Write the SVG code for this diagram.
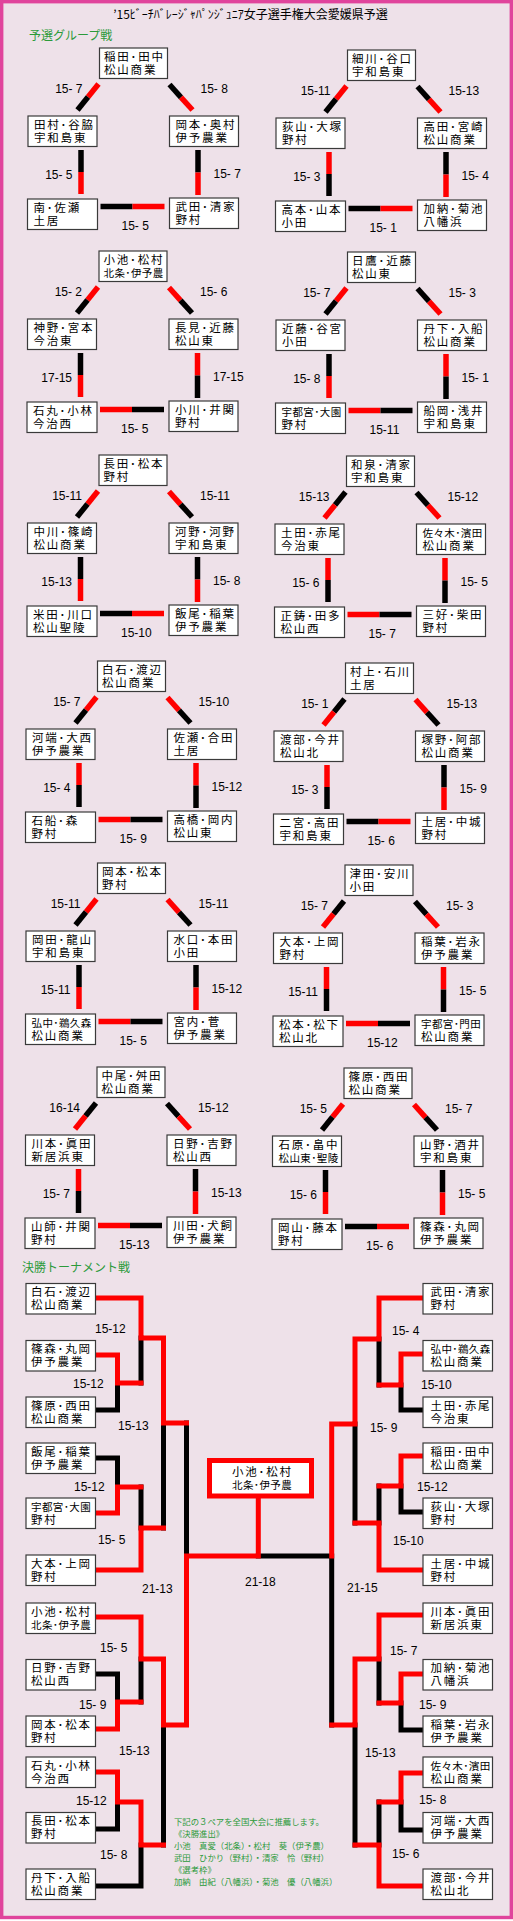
<svg xmlns="http://www.w3.org/2000/svg" width="513" height="1921" viewBox="0 0 513 1921">
<style>
.bx{fill:#fff;stroke:#3a3a3a;stroke-width:1.2}
.nt{font-family:"Liberation Sans","Noto Sans CJK JP","Noto Sans CJK SC",sans-serif;font-size:11.5px;letter-spacing:1.8px;fill:#000}
.cp{letter-spacing:0.4px;font-size:10.5px}
.sc{font-family:"Liberation Sans",Arial,sans-serif;font-size:12px;fill:#000}
.e{text-anchor:end}
.r{stroke:#f00;stroke-width:5.5;fill:none}
.k{stroke:#000;stroke-width:5.5;fill:none}
.R{stroke:#f00;stroke-width:5;fill:none;stroke-linecap:square}
.K{stroke:#000;stroke-width:5;fill:none;stroke-linecap:square}
.gh{font-family:"Noto Sans CJK JP","Noto Sans CJK SC",sans-serif;font-size:12px;fill:#2b9a3a}
.ft{font-family:"Liberation Sans","Noto Sans CJK JP","Noto Sans CJK SC",sans-serif;font-size:8.4px;fill:#2b9a3a}
.tt{font-family:"Noto Sans CJK JP","Noto Sans CJK SC",sans-serif;font-size:12px;fill:#000;text-anchor:middle}
</style>
<rect x="1.7" y="1.7" width="509.6" height="1915.8" fill="#eee1e9" stroke="#e0449c" stroke-width="3.4"/>
<text class="tt" x="250.5" y="19">’15ﾋﾞｰﾁﾊﾞﾚｰｼﾞｬﾊﾟﾝｼﾞｭﾆｱ女子選手権大会愛媛県予選</text>
<text class="gh" x="29" y="40">予選グループ戦</text>
<text class="gh" x="22" y="1272">決勝トーナメント戦</text>

<g id="connectors">
<g id="pool-lines">
<g transform="translate(0.5,48)">
<path class="r" d="M98,36L87.5,49"/><path class="k" d="M87.5,49L77,62"/>
<path class="k" d="M169,36.5L180.5,49.3"/><path class="r" d="M180.5,49.3L192,62"/>
<path class="k" d="M80.5,102V124"/><path class="r" d="M80.5,124V146"/>
<path class="k" d="M197.5,102V124.5"/><path class="r" d="M197.5,124.5V147"/>
<path class="k" d="M100,158.5H132"/><path class="r" d="M132,158.5H164"/>
<text class="sc e" x="82" y="45">15- 7</text><text class="sc" x="200" y="45">15- 8</text><text class="sc e" x="72" y="131">15- 5</text><text class="sc" x="213" y="130">15- 7</text><text class="sc" x="121" y="182">15- 5</text>
</g>
<g transform="translate(248.5,50)">
<path class="r" d="M98,36L87.5,49"/><path class="k" d="M87.5,49L77,62"/>
<path class="k" d="M169,36.5L180.5,49.3"/><path class="r" d="M180.5,49.3L192,62"/>
<path class="r" d="M80.5,102V124"/><path class="k" d="M80.5,124V146"/>
<path class="k" d="M197.5,102V124.5"/><path class="r" d="M197.5,124.5V147"/>
<path class="k" d="M100,158.5H132"/><path class="r" d="M132,158.5H164"/>
<text class="sc e" x="82" y="45">15-11</text><text class="sc" x="200" y="45">15-13</text><text class="sc e" x="72" y="131">15- 3</text><text class="sc" x="213" y="130">15- 4</text><text class="sc" x="121" y="182">15- 1</text>
</g>
<g transform="translate(0,251)">
<path class="r" d="M98,36L87.5,49"/><path class="k" d="M87.5,49L77,62"/>
<path class="r" d="M169,36.5L180.5,49.3"/><path class="k" d="M180.5,49.3L192,62"/>
<path class="k" d="M80.5,102V124"/><path class="r" d="M80.5,124V146"/>
<path class="r" d="M197.5,102V124.5"/><path class="k" d="M197.5,124.5V147"/>
<path class="r" d="M100,158.5H132"/><path class="k" d="M132,158.5H164"/>
<text class="sc e" x="82" y="45">15- 2</text><text class="sc" x="200" y="45">15- 6</text><text class="sc e" x="72" y="131">17-15</text><text class="sc" x="213" y="130">17-15</text><text class="sc" x="121" y="182">15- 5</text>
</g>
<g transform="translate(248.5,252)">
<path class="r" d="M98,36L87.5,49"/><path class="k" d="M87.5,49L77,62"/>
<path class="k" d="M169,36.5L180.5,49.3"/><path class="r" d="M180.5,49.3L192,62"/>
<path class="k" d="M80.5,102V124"/><path class="r" d="M80.5,124V146"/>
<path class="r" d="M197.5,102V124.5"/><path class="k" d="M197.5,124.5V147"/>
<path class="r" d="M100,158.5H132"/><path class="k" d="M132,158.5H164"/>
<text class="sc e" x="82" y="45">15- 7</text><text class="sc" x="200" y="45">15- 3</text><text class="sc e" x="72" y="131">15- 8</text><text class="sc" x="213" y="130">15- 1</text><text class="sc" x="121" y="182">15-11</text>
</g>
<g transform="translate(0,455)">
<path class="r" d="M98,36L87.5,49"/><path class="k" d="M87.5,49L77,62"/>
<path class="r" d="M169,36.5L180.5,49.3"/><path class="k" d="M180.5,49.3L192,62"/>
<path class="k" d="M80.5,102V124"/><path class="r" d="M80.5,124V146"/>
<path class="k" d="M197.5,102V124.5"/><path class="r" d="M197.5,124.5V147"/>
<path class="k" d="M100,158.5H132"/><path class="r" d="M132,158.5H164"/>
<text class="sc e" x="82" y="45">15-11</text><text class="sc" x="200" y="45">15-11</text><text class="sc e" x="72" y="131">15-13</text><text class="sc" x="213" y="130">15- 8</text><text class="sc" x="121" y="182">15-10</text>
</g>
<g transform="translate(247.5,456)">
<path class="k" d="M98,36L87.5,49"/><path class="r" d="M87.5,49L77,62"/>
<path class="k" d="M169,36.5L180.5,49.3"/><path class="r" d="M180.5,49.3L192,62"/>
<path class="r" d="M80.5,102V124"/><path class="k" d="M80.5,124V146"/>
<path class="r" d="M197.5,102V124.5"/><path class="k" d="M197.5,124.5V147"/>
<path class="r" d="M100,158.5H132"/><path class="k" d="M132,158.5H164"/>
<text class="sc e" x="82" y="45">15-13</text><text class="sc" x="200" y="45">15-12</text><text class="sc e" x="72" y="131">15- 6</text><text class="sc" x="213" y="130">15- 5</text><text class="sc" x="121" y="182">15- 7</text>
</g>
<g transform="translate(-1.5,661)">
<path class="r" d="M98,36L87.5,49"/><path class="k" d="M87.5,49L77,62"/>
<path class="r" d="M169,36.5L180.5,49.3"/><path class="k" d="M180.5,49.3L192,62"/>
<path class="r" d="M80.5,102V124"/><path class="k" d="M80.5,124V146"/>
<path class="r" d="M197.5,102V124.5"/><path class="k" d="M197.5,124.5V147"/>
<path class="r" d="M100,158.5H132"/><path class="k" d="M132,158.5H164"/>
<text class="sc e" x="82" y="45">15- 7</text><text class="sc" x="200" y="45">15-10</text><text class="sc e" x="72" y="131">15- 4</text><text class="sc" x="213" y="130">15-12</text><text class="sc" x="121" y="182">15- 9</text>
</g>
<g transform="translate(246.5,663)">
<path class="k" d="M98,36L87.5,49"/><path class="r" d="M87.5,49L77,62"/>
<path class="r" d="M169,36.5L180.5,49.3"/><path class="k" d="M180.5,49.3L192,62"/>
<path class="r" d="M80.5,102V124"/><path class="k" d="M80.5,124V146"/>
<path class="k" d="M197.5,102V124.5"/><path class="r" d="M197.5,124.5V147"/>
<path class="k" d="M100,158.5H132"/><path class="r" d="M132,158.5H164"/>
<text class="sc e" x="82" y="45">15- 1</text><text class="sc" x="200" y="45">15-13</text><text class="sc e" x="72" y="131">15- 3</text><text class="sc" x="213" y="130">15- 9</text><text class="sc" x="121" y="182">15- 6</text>
</g>
<g transform="translate(-1.5,863)">
<path class="r" d="M98,36L87.5,49"/><path class="k" d="M87.5,49L77,62"/>
<path class="r" d="M169,36.5L180.5,49.3"/><path class="k" d="M180.5,49.3L192,62"/>
<path class="k" d="M80.5,102V124"/><path class="r" d="M80.5,124V146"/>
<path class="k" d="M197.5,102V124.5"/><path class="r" d="M197.5,124.5V147"/>
<path class="r" d="M100,158.5H132"/><path class="k" d="M132,158.5H164"/>
<text class="sc e" x="82" y="45">15-11</text><text class="sc" x="200" y="45">15-11</text><text class="sc e" x="72" y="131">15-11</text><text class="sc" x="213" y="130">15-12</text><text class="sc" x="121" y="182">15- 5</text>
</g>
<g transform="translate(246,865)">
<path class="k" d="M98,36L87.5,49"/><path class="r" d="M87.5,49L77,62"/>
<path class="k" d="M169,36.5L180.5,49.3"/><path class="r" d="M180.5,49.3L192,62"/>
<path class="r" d="M80.5,102V124"/><path class="k" d="M80.5,124V146"/>
<path class="r" d="M197.5,102V124.5"/><path class="k" d="M197.5,124.5V147"/>
<path class="r" d="M100,158.5H132"/><path class="k" d="M132,158.5H164"/>
<text class="sc e" x="82" y="45">15- 7</text><text class="sc" x="200" y="45">15- 3</text><text class="sc e" x="72" y="131">15-11</text><text class="sc" x="213" y="130">15- 5</text><text class="sc" x="121" y="182">15-12</text>
</g>
<g transform="translate(-2,1067)">
<path class="k" d="M98,36L87.5,49"/><path class="r" d="M87.5,49L77,62"/>
<path class="k" d="M169,36.5L180.5,49.3"/><path class="r" d="M180.5,49.3L192,62"/>
<path class="r" d="M80.5,102V124"/><path class="k" d="M80.5,124V146"/>
<path class="k" d="M197.5,102V124.5"/><path class="r" d="M197.5,124.5V147"/>
<path class="r" d="M100,158.5H132"/><path class="k" d="M132,158.5H164"/>
<text class="sc e" x="82" y="45">16-14</text><text class="sc" x="200" y="45">15-12</text><text class="sc e" x="72" y="131">15- 7</text><text class="sc" x="213" y="130">15-13</text><text class="sc" x="121" y="182">15-13</text>
</g>
<g transform="translate(245,1068)">
<path class="r" d="M98,36L87.5,49"/><path class="k" d="M87.5,49L77,62"/>
<path class="r" d="M169,36.5L180.5,49.3"/><path class="k" d="M180.5,49.3L192,62"/>
<path class="k" d="M80.5,102V124"/><path class="r" d="M80.5,124V146"/>
<path class="k" d="M197.5,102V124.5"/><path class="r" d="M197.5,124.5V147"/>
<path class="k" d="M100,158.5H132"/><path class="r" d="M132,158.5H164"/>
<text class="sc e" x="82" y="45">15- 5</text><text class="sc" x="200" y="45">15- 7</text><text class="sc e" x="72" y="131">15- 6</text><text class="sc" x="213" y="130">15- 5</text><text class="sc" x="121" y="182">15- 6</text>
</g>
</g>

<g id="bracket-lines">
<path class="K" d="M141,1338V1383"/>
<path class="K" d="M95,1410H117.5V1383"/>
<path class="K" d="M163.5,1423V1528"/>
<path class="K" d="M95,1458H117.5V1487"/>
<path class="K" d="M141,1487V1528"/>
<path class="K" d="M186.5,1423V1556"/>
<path class="K" d="M141,1659V1702"/>
<path class="K" d="M95,1674H117.5V1702"/>
<path class="K" d="M163.5,1725V1845"/>
<path class="K" d="M95,1829H117.5V1802"/>
<path class="K" d="M141,1845V1886H95"/>
<path class="K" d="M379,1339V1385"/>
<path class="K" d="M401,1385V1410H423"/>
<path class="K" d="M355,1424V1523"/>
<path class="K" d="M379,1486V1523"/>
<path class="K" d="M401,1486V1512H423"/>
<path class="K" d="M258.3,1556H331.7V1725"/>
<path class="K" d="M379,1659V1703"/>
<path class="K" d="M401,1703V1730H423"/>
<path class="K" d="M355,1725V1845"/>
<path class="K" d="M401,1802V1830H423"/>
<path class="K" d="M379,1802V1845"/>
<path class="R" d="M95,1298H141V1338H163.5V1423H186.5"/>
<path class="R" d="M95,1355H117.5V1383H141"/>
<path class="R" d="M95,1513H117.5V1487H141"/>
<path class="R" d="M95,1570H141V1528H163.5"/>
<path class="R" d="M95,1617H141V1659H163.5V1725H186.5V1556H258.3V1498"/>
<path class="R" d="M95,1729H117.5V1702H141"/>
<path class="R" d="M95,1772H117.5V1802H141V1845H163.5"/>
<path class="R" d="M423,1298H379V1339H355V1424H331.7V1556"/>
<path class="R" d="M423,1354H401V1385H379"/>
<path class="R" d="M423,1456H401V1486H379"/>
<path class="R" d="M423,1570H379V1523H355"/>
<path class="R" d="M423,1615H379V1659H355V1725H331.7"/>
<path class="R" d="M423,1674H401V1703H379"/>
<path class="R" d="M423,1773H401V1802H379"/>
<path class="R" d="M423,1886H379V1845H355"/>
<text class="sc" x="95" y="1333">15-12</text>
<text class="sc" x="73" y="1388">15-12</text>
<text class="sc" x="118" y="1430">15-13</text>
<text class="sc" x="74" y="1491">15-12</text>
<text class="sc" x="98" y="1544">15- 5</text>
<text class="sc" x="142" y="1593">21-13</text>
<text class="sc" x="100" y="1652">15- 5</text>
<text class="sc" x="79" y="1709">15- 9</text>
<text class="sc" x="119" y="1755">15-13</text>
<text class="sc" x="76" y="1805">15-12</text>
<text class="sc" x="100" y="1859">15- 8</text>
<text class="sc" x="245" y="1586">21-18</text>
<text class="sc" x="347" y="1592">21-15</text>
<text class="sc" x="392" y="1335">15- 4</text>
<text class="sc" x="421" y="1389">15-10</text>
<text class="sc" x="370" y="1432">15- 9</text>
<text class="sc" x="417" y="1491">15-12</text>
<text class="sc" x="393" y="1545">15-10</text>
<text class="sc" x="390" y="1655">15- 7</text>
<text class="sc" x="419" y="1709">15- 9</text>
<text class="sc" x="365" y="1757">15-13</text>
<text class="sc" x="419" y="1804">15- 8</text>
<text class="sc" x="392" y="1858">15- 6</text>
</g>
</g>

<g id="pool1" transform="translate(0.5,48)">
<g id="p1a" transform="translate(99,0)"><rect class="bx" width="68" height="30.5"/><text class="nt" x="4.5" y="12.8">稲田･田中<tspan x="4.5" dy="13">松山商業</tspan></text></g>
<g id="p1b" transform="translate(27.5,68)"><rect class="bx" width="69" height="30.5"/><text class="nt" x="6" y="12.8">田村･谷脇<tspan x="6" dy="13">宇和島東</tspan></text></g>
<g id="p1c" transform="translate(169,68)"><rect class="bx" width="69" height="30.5"/><text class="nt" x="6" y="12.8">岡本･奥村<tspan x="6" dy="13">伊予農業</tspan></text></g>
<g id="p1d" transform="translate(27,151)"><rect class="bx" width="70" height="30.5"/><text class="nt" x="6" y="12.8">南･佐瀬<tspan x="6" dy="13">土居</tspan></text></g>
<g id="p1e" transform="translate(169,150)"><rect class="bx" width="69" height="30.5"/><text class="nt" x="6" y="12.8">武田･清家<tspan x="6" dy="13">野村</tspan></text></g>
</g>
<g id="pool2" transform="translate(248.5,50)">
<g id="p2a" transform="translate(99,0)"><rect class="bx" width="68" height="30.5"/><text class="nt" x="4.5" y="12.8">細川･谷口<tspan x="4.5" dy="13">宇和島東</tspan></text></g>
<g id="p2b" transform="translate(27.5,68)"><rect class="bx" width="69" height="30.5"/><text class="nt" x="6" y="12.8">荻山･大塚<tspan x="6" dy="13">野村</tspan></text></g>
<g id="p2c" transform="translate(169,68)"><rect class="bx" width="69" height="30.5"/><text class="nt" x="6" y="12.8">高田･宮崎<tspan x="6" dy="13">松山商業</tspan></text></g>
<g id="p2d" transform="translate(27,151)"><rect class="bx" width="70" height="30.5"/><text class="nt" x="6" y="12.8">高本･山本<tspan x="6" dy="13">小田</tspan></text></g>
<g id="p2e" transform="translate(169,150)"><rect class="bx" width="69" height="30.5"/><text class="nt" x="6" y="12.8">加納･菊池<tspan x="6" dy="13">八幡浜</tspan></text></g>
</g>
<g id="pool3" transform="translate(0,251)">
<g id="p3a" transform="translate(99,0)"><rect class="bx" width="68" height="30.5"/><text class="nt" x="4.5" y="12.8">小池･松村<tspan class="cp" x="4.5" dy="13">北条･伊予農</tspan></text></g>
<g id="p3b" transform="translate(27.5,68)"><rect class="bx" width="69" height="30.5"/><text class="nt" x="6" y="12.8">神野･宮本<tspan x="6" dy="13">今治東</tspan></text></g>
<g id="p3c" transform="translate(169,68)"><rect class="bx" width="69" height="30.5"/><text class="nt" x="6" y="12.8">長見･近藤<tspan x="6" dy="13">松山東</tspan></text></g>
<g id="p3d" transform="translate(27,151)"><rect class="bx" width="70" height="30.5"/><text class="nt" x="6" y="12.8">石丸･小林<tspan x="6" dy="13">今治西</tspan></text></g>
<g id="p3e" transform="translate(169,150)"><rect class="bx" width="69" height="30.5"/><text class="nt" x="6" y="12.8">小川･井関<tspan x="6" dy="13">野村</tspan></text></g>
</g>
<g id="pool4" transform="translate(248.5,252)">
<g id="p4a" transform="translate(99,0)"><rect class="bx" width="68" height="30.5"/><text class="nt" x="4.5" y="12.8">日鷹･近藤<tspan x="4.5" dy="13">松山東</tspan></text></g>
<g id="p4b" transform="translate(27.5,68)"><rect class="bx" width="69" height="30.5"/><text class="nt" x="6" y="12.8">近藤･谷宮<tspan x="6" dy="13">小田</tspan></text></g>
<g id="p4c" transform="translate(169,68)"><rect class="bx" width="69" height="30.5"/><text class="nt" x="6" y="12.8">丹下･入船<tspan x="6" dy="13">松山商業</tspan></text></g>
<g id="p4d" transform="translate(27,151)"><rect class="bx" width="70" height="30.5"/><text class="nt" x="6" y="12.8"><tspan class="cp">宇都宮･大園</tspan><tspan x="6" dy="13">野村</tspan></text></g>
<g id="p4e" transform="translate(169,150)"><rect class="bx" width="69" height="30.5"/><text class="nt" x="6" y="12.8">船岡･浅井<tspan x="6" dy="13">宇和島東</tspan></text></g>
</g>
<g id="pool5" transform="translate(0,455)">
<g id="p5a" transform="translate(99,0)"><rect class="bx" width="68" height="30.5"/><text class="nt" x="4.5" y="12.8">長田･松本<tspan x="4.5" dy="13">野村</tspan></text></g>
<g id="p5b" transform="translate(27.5,68)"><rect class="bx" width="69" height="30.5"/><text class="nt" x="6" y="12.8">中川･篠崎<tspan x="6" dy="13">松山商業</tspan></text></g>
<g id="p5c" transform="translate(169,68)"><rect class="bx" width="69" height="30.5"/><text class="nt" x="6" y="12.8">河野･河野<tspan x="6" dy="13">宇和島東</tspan></text></g>
<g id="p5d" transform="translate(27,151)"><rect class="bx" width="70" height="30.5"/><text class="nt" x="6" y="12.8">米田･川口<tspan x="6" dy="13">松山聖陵</tspan></text></g>
<g id="p5e" transform="translate(169,150)"><rect class="bx" width="69" height="30.5"/><text class="nt" x="6" y="12.8">飯尾･稲葉<tspan x="6" dy="13">伊予農業</tspan></text></g>
</g>
<g id="pool6" transform="translate(247.5,456)">
<g id="p6a" transform="translate(99,0)"><rect class="bx" width="68" height="30.5"/><text class="nt" x="4.5" y="12.8">和泉･清家<tspan x="4.5" dy="13">宇和島東</tspan></text></g>
<g id="p6b" transform="translate(27.5,68)"><rect class="bx" width="69" height="30.5"/><text class="nt" x="6" y="12.8">土田･赤尾<tspan x="6" dy="13">今治東</tspan></text></g>
<g id="p6c" transform="translate(169,68)"><rect class="bx" width="69" height="30.5"/><text class="nt" x="6" y="12.8"><tspan class="cp">佐々木･濱田</tspan><tspan x="6" dy="13">松山商業</tspan></text></g>
<g id="p6d" transform="translate(27,151)"><rect class="bx" width="70" height="30.5"/><text class="nt" x="6" y="12.8">正鋳･田多<tspan x="6" dy="13">松山西</tspan></text></g>
<g id="p6e" transform="translate(169,150)"><rect class="bx" width="69" height="30.5"/><text class="nt" x="6" y="12.8">三好･柴田<tspan x="6" dy="13">野村</tspan></text></g>
</g>
<g id="pool7" transform="translate(-1.5,661)">
<g id="p7a" transform="translate(99,0)"><rect class="bx" width="68" height="30.5"/><text class="nt" x="4.5" y="12.8">白石･渡辺<tspan x="4.5" dy="13">松山商業</tspan></text></g>
<g id="p7b" transform="translate(27.5,68)"><rect class="bx" width="69" height="30.5"/><text class="nt" x="6" y="12.8">河端･大西<tspan x="6" dy="13">伊予農業</tspan></text></g>
<g id="p7c" transform="translate(169,68)"><rect class="bx" width="69" height="30.5"/><text class="nt" x="6" y="12.8">佐瀬･合田<tspan x="6" dy="13">土居</tspan></text></g>
<g id="p7d" transform="translate(27,151)"><rect class="bx" width="70" height="30.5"/><text class="nt" x="6" y="12.8">石船･森<tspan x="6" dy="13">野村</tspan></text></g>
<g id="p7e" transform="translate(169,150)"><rect class="bx" width="69" height="30.5"/><text class="nt" x="6" y="12.8">高橋･岡内<tspan x="6" dy="13">松山東</tspan></text></g>
</g>
<g id="pool8" transform="translate(246.5,663)">
<g id="p8a" transform="translate(99,0)"><rect class="bx" width="68" height="30.5"/><text class="nt" x="4.5" y="12.8">村上･石川<tspan x="4.5" dy="13">土居</tspan></text></g>
<g id="p8b" transform="translate(27.5,68)"><rect class="bx" width="69" height="30.5"/><text class="nt" x="6" y="12.8">渡部･今井<tspan x="6" dy="13">松山北</tspan></text></g>
<g id="p8c" transform="translate(169,68)"><rect class="bx" width="69" height="30.5"/><text class="nt" x="6" y="12.8">塚野･阿部<tspan x="6" dy="13">松山商業</tspan></text></g>
<g id="p8d" transform="translate(27,151)"><rect class="bx" width="70" height="30.5"/><text class="nt" x="6" y="12.8">二宮･高田<tspan x="6" dy="13">宇和島東</tspan></text></g>
<g id="p8e" transform="translate(169,150)"><rect class="bx" width="69" height="30.5"/><text class="nt" x="6" y="12.8">土居･中城<tspan x="6" dy="13">野村</tspan></text></g>
</g>
<g id="pool9" transform="translate(-1.5,863)">
<g id="p9a" transform="translate(99,0)"><rect class="bx" width="68" height="30.5"/><text class="nt" x="4.5" y="12.8">岡本･松本<tspan x="4.5" dy="13">野村</tspan></text></g>
<g id="p9b" transform="translate(27.5,68)"><rect class="bx" width="69" height="30.5"/><text class="nt" x="6" y="12.8">岡田･龍山<tspan x="6" dy="13">宇和島東</tspan></text></g>
<g id="p9c" transform="translate(169,68)"><rect class="bx" width="69" height="30.5"/><text class="nt" x="6" y="12.8">水口･本田<tspan x="6" dy="13">小田</tspan></text></g>
<g id="p9d" transform="translate(27,151)"><rect class="bx" width="70" height="30.5"/><text class="nt" x="6" y="12.8"><tspan class="cp">弘中･鵜久森</tspan><tspan x="6" dy="13">松山商業</tspan></text></g>
<g id="p9e" transform="translate(169,150)"><rect class="bx" width="69" height="30.5"/><text class="nt" x="6" y="12.8">宮内･菅<tspan x="6" dy="13">伊予農業</tspan></text></g>
</g>
<g id="pool10" transform="translate(246,865)">
<g id="p10a" transform="translate(99,0)"><rect class="bx" width="68" height="30.5"/><text class="nt" x="4.5" y="12.8">津田･安川<tspan x="4.5" dy="13">小田</tspan></text></g>
<g id="p10b" transform="translate(27.5,68)"><rect class="bx" width="69" height="30.5"/><text class="nt" x="6" y="12.8">大本･上岡<tspan x="6" dy="13">野村</tspan></text></g>
<g id="p10c" transform="translate(169,68)"><rect class="bx" width="69" height="30.5"/><text class="nt" x="6" y="12.8">稲葉･岩永<tspan x="6" dy="13">伊予農業</tspan></text></g>
<g id="p10d" transform="translate(27,151)"><rect class="bx" width="70" height="30.5"/><text class="nt" x="6" y="12.8">松本･松下<tspan x="6" dy="13">松山北</tspan></text></g>
<g id="p10e" transform="translate(169,150)"><rect class="bx" width="69" height="30.5"/><text class="nt" x="6" y="12.8"><tspan class="cp">宇都宮･門田</tspan><tspan x="6" dy="13">松山商業</tspan></text></g>
</g>
<g id="pool11" transform="translate(-2,1067)">
<g id="p11a" transform="translate(99,0)"><rect class="bx" width="68" height="30.5"/><text class="nt" x="4.5" y="12.8">中尾･舛田<tspan x="4.5" dy="13">松山商業</tspan></text></g>
<g id="p11b" transform="translate(27.5,68)"><rect class="bx" width="69" height="30.5"/><text class="nt" x="6" y="12.8">川本･眞田<tspan x="6" dy="13">新居浜東</tspan></text></g>
<g id="p11c" transform="translate(169,68)"><rect class="bx" width="69" height="30.5"/><text class="nt" x="6" y="12.8">日野･吉野<tspan x="6" dy="13">松山西</tspan></text></g>
<g id="p11d" transform="translate(27,151)"><rect class="bx" width="70" height="30.5"/><text class="nt" x="6" y="12.8">山師･井関<tspan x="6" dy="13">野村</tspan></text></g>
<g id="p11e" transform="translate(169,150)"><rect class="bx" width="69" height="30.5"/><text class="nt" x="6" y="12.8">川田･犬飼<tspan x="6" dy="13">伊予農業</tspan></text></g>
</g>
<g id="pool12" transform="translate(245,1068)">
<g id="p12a" transform="translate(99,0)"><rect class="bx" width="68" height="30.5"/><text class="nt" x="4.5" y="12.8">篠原･西田<tspan x="4.5" dy="13">松山商業</tspan></text></g>
<g id="p12b" transform="translate(27.5,68)"><rect class="bx" width="69" height="30.5"/><text class="nt" x="6" y="12.8">石原･畠中<tspan class="cp" x="6" dy="13">松山東･聖陵</tspan></text></g>
<g id="p12c" transform="translate(169,68)"><rect class="bx" width="69" height="30.5"/><text class="nt" x="6" y="12.8">山野･酒井<tspan x="6" dy="13">宇和島東</tspan></text></g>
<g id="p12d" transform="translate(27,151)"><rect class="bx" width="70" height="30.5"/><text class="nt" x="6" y="12.8">岡山･藤本<tspan x="6" dy="13">野村</tspan></text></g>
<g id="p12e" transform="translate(169,150)"><rect class="bx" width="69" height="30.5"/><text class="nt" x="6" y="12.8">篠森･丸岡<tspan x="6" dy="13">伊予農業</tspan></text></g>
</g>

<g id="finals-left">
<g id="fL1" transform="translate(26,1283.5)"><rect class="bx" width="69.5" height="30.5"/><text class="nt" x="5" y="12.8">白石･渡辺<tspan x="5" dy="13">松山商業</tspan></text></g>
<g id="fL2" transform="translate(26,1340.5)"><rect class="bx" width="69.5" height="30.5"/><text class="nt" x="5" y="12.8">篠森･丸岡<tspan x="5" dy="13">伊予農業</tspan></text></g>
<g id="fL3" transform="translate(26,1397)"><rect class="bx" width="69.5" height="30.5"/><text class="nt" x="5" y="12.8">篠原･西田<tspan x="5" dy="13">松山商業</tspan></text></g>
<g id="fL4" transform="translate(26,1443)"><rect class="bx" width="69.5" height="30.5"/><text class="nt" x="5" y="12.8">飯尾･稲葉<tspan x="5" dy="13">伊予農業</tspan></text></g>
<g id="fL5" transform="translate(26,1498)"><rect class="bx" width="69.5" height="30.5"/><text class="nt" x="5" y="12.8"><tspan class="cp">宇都宮･大園</tspan><tspan x="5" dy="13">野村</tspan></text></g>
<g id="fL6" transform="translate(26,1555)"><rect class="bx" width="69.5" height="30.5"/><text class="nt" x="5" y="12.8">大本･上岡<tspan x="5" dy="13">野村</tspan></text></g>
<g id="fL7" transform="translate(26,1603)"><rect class="bx" width="69.5" height="30.5"/><text class="nt" x="5" y="12.8">小池･松村<tspan class="cp" x="5" dy="13">北条･伊予農</tspan></text></g>
<g id="fL8" transform="translate(26,1659.5)"><rect class="bx" width="69.5" height="30.5"/><text class="nt" x="5" y="12.8">日野･吉野<tspan x="5" dy="13">松山西</tspan></text></g>
<g id="fL9" transform="translate(26,1716)"><rect class="bx" width="69.5" height="30.5"/><text class="nt" x="5" y="12.8">岡本･松本<tspan x="5" dy="13">野村</tspan></text></g>
<g id="fL10" transform="translate(26,1757)"><rect class="bx" width="69.5" height="30.5"/><text class="nt" x="5" y="12.8">石丸･小林<tspan x="5" dy="13">今治西</tspan></text></g>
<g id="fL11" transform="translate(26,1812.5)"><rect class="bx" width="69.5" height="30.5"/><text class="nt" x="5" y="12.8">長田･松本<tspan x="5" dy="13">野村</tspan></text></g>
<g id="fL12" transform="translate(26,1869)"><rect class="bx" width="69.5" height="30.5"/><text class="nt" x="5" y="12.8">丹下･入船<tspan x="5" dy="13">松山商業</tspan></text></g>
</g>
<g id="finals-right">
<g id="fR1" transform="translate(423,1283.5)"><rect class="bx" width="69.5" height="30.5"/><text class="nt" x="7.5" y="12.8">武田･清家<tspan x="7.5" dy="13">野村</tspan></text></g>
<g id="fR2" transform="translate(423,1340.5)"><rect class="bx" width="69.5" height="30.5"/><text class="nt" x="7.5" y="12.8"><tspan class="cp">弘中･鵜久森</tspan><tspan x="7.5" dy="13">松山商業</tspan></text></g>
<g id="fR3" transform="translate(423,1397)"><rect class="bx" width="69.5" height="30.5"/><text class="nt" x="7.5" y="12.8">土田･赤尾<tspan x="7.5" dy="13">今治東</tspan></text></g>
<g id="fR4" transform="translate(423,1443)"><rect class="bx" width="69.5" height="30.5"/><text class="nt" x="7.5" y="12.8">稲田･田中<tspan x="7.5" dy="13">松山商業</tspan></text></g>
<g id="fR5" transform="translate(423,1498)"><rect class="bx" width="69.5" height="30.5"/><text class="nt" x="7.5" y="12.8">荻山･大塚<tspan x="7.5" dy="13">野村</tspan></text></g>
<g id="fR6" transform="translate(423,1555)"><rect class="bx" width="69.5" height="30.5"/><text class="nt" x="7.5" y="12.8">土居･中城<tspan x="7.5" dy="13">野村</tspan></text></g>
<g id="fR7" transform="translate(423,1603)"><rect class="bx" width="69.5" height="30.5"/><text class="nt" x="7.5" y="12.8">川本･眞田<tspan x="7.5" dy="13">新居浜東</tspan></text></g>
<g id="fR8" transform="translate(423,1659.5)"><rect class="bx" width="69.5" height="30.5"/><text class="nt" x="7.5" y="12.8">加納･菊池<tspan x="7.5" dy="13">八幡浜</tspan></text></g>
<g id="fR9" transform="translate(423,1716)"><rect class="bx" width="69.5" height="30.5"/><text class="nt" x="7.5" y="12.8">稲葉･岩永<tspan x="7.5" dy="13">伊予農業</tspan></text></g>
<g id="fR10" transform="translate(423,1757)"><rect class="bx" width="69.5" height="30.5"/><text class="nt" x="7.5" y="12.8"><tspan class="cp">佐々木･濱田</tspan><tspan x="7.5" dy="13">松山商業</tspan></text></g>
<g id="fR11" transform="translate(423,1812.5)"><rect class="bx" width="69.5" height="30.5"/><text class="nt" x="7.5" y="12.8">河端･大西<tspan x="7.5" dy="13">伊予農業</tspan></text></g>
<g id="fR12" transform="translate(423,1869)"><rect class="bx" width="69.5" height="30.5"/><text class="nt" x="7.5" y="12.8">渡部･今井<tspan x="7.5" dy="13">松山北</tspan></text></g>
</g>
<g id="champion">
<rect x="209.5" y="1460.5" width="102" height="35.5" fill="#fff" stroke="#f00" stroke-width="5"/>
<text class="nt" x="232" y="1476">小池･松村<tspan class="cp" x="232" dy="13.2">北条･伊予農</tspan></text>
</g>
<g id="note">
<text class="ft" x="174" y="1825">下記の３ペアを全国大会に推薦します。<tspan x="174" dy="12">《決勝進出》</tspan><tspan x="174" dy="12">小池　真愛（北条）・松村　葵（伊予農）</tspan><tspan x="174" dy="12">武田　ひかり（野村）・清家　怜（野村）</tspan><tspan x="174" dy="12">《選考枠》</tspan><tspan x="174" dy="12">加納　由紀（八幡浜）・菊池　優（八幡浜）</tspan></text>
</g>
</svg>
